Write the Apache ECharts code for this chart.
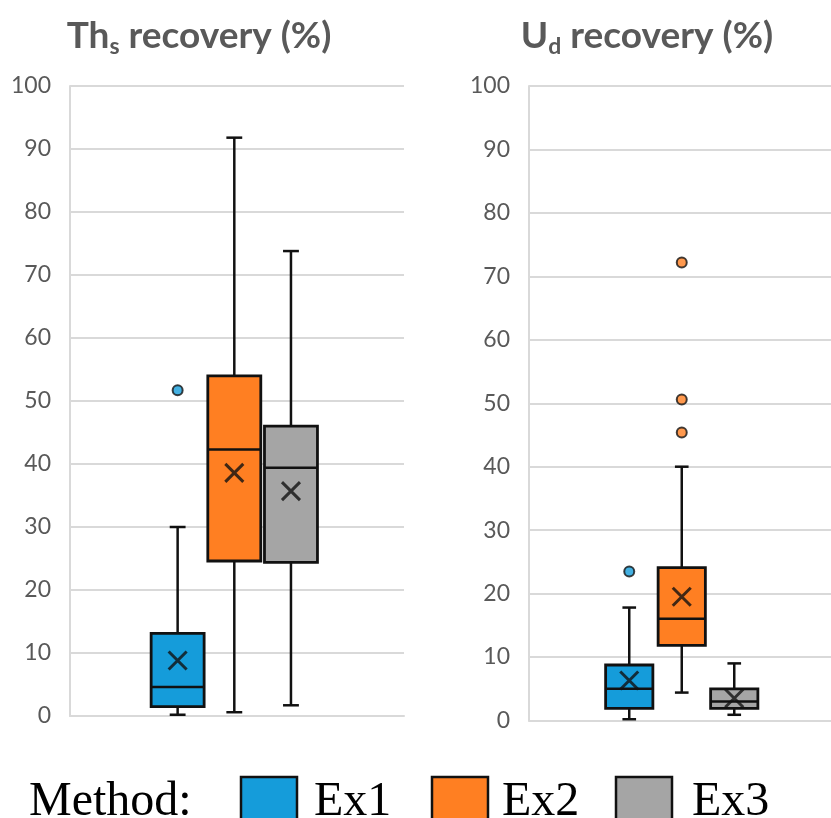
<!DOCTYPE html>
<html>
<head>
<meta charset="utf-8">
<script src="https://cdn.jsdelivr.net/npm/echarts@6/dist/echarts.min.js"></script>
<style>
html,body{margin:0;padding:0;background:#fff;}
#chart{width:831px;height:818px;}
</style>
</head>
<body>
<div id="chart"></div>
<script>
// ---- data ----
const methods = ['Ex1', 'Ex2', 'Ex3'];
const methodColors = ['#159CDA', '#FF7F22', '#A5A5A5'];
const yTicks = [0, 10, 20, 30, 40, 50, 60, 70, 80, 90, 100];
const titleLeft = ['Th', 's', ' recovery (%)'];
const titleRight = ['U', 'd', ' recovery (%)'];
// [min whisker, Q1, median, Q3, max whisker]
const thsBoxes = [
  [0.2, 1.5, 4.6, 13.1, 30.0],
  [0.6, 24.6, 42.3, 54.0, 91.8],
  [1.7, 24.4, 39.4, 46.0, 73.8]
];
const thsMeans = [8.8, 38.6, 35.7];
const thsOutliers = [[0, 51.7]];
const udBoxes = [
  [0.2, 1.9, 5.0, 8.75, 17.8],
  [4.4, 11.85, 16.05, 24.1, 40.0],
  [0.9, 1.9, 3.0, 5.0, 9.0]
];
const udMeans = [6.3, 19.5, 3.5];
const udOutliers = [[0, 23.5], [1, 72.2], [1, 50.6], [1, 45.4]];

// ---- chart ----
const chart = echarts.init(document.getElementById('chart'));
const yMin = yTicks[0], yMax = yTicks[yTicks.length - 1], yStep = yTicks[1] - yTicks[0];
const gridColor = '#D9D9D9';
const labelColor = '#595959';

function makeRender(boxRatio, capRatio) {
  return function (params, api) {
    const c = api.value(0);
    const lo = api.value(1), q1 = api.value(2), med = api.value(3), q3 = api.value(4), hi = api.value(5);
    const band = api.size([1, 0])[0];
    const bw = band * boxRatio, cw = band * capRatio;
    const pHi = api.coord([c, hi]), pQ3 = api.coord([c, q3]), pMed = api.coord([c, med]);
    const pQ1 = api.coord([c, q1]), pLo = api.coord([c, lo]);
    const x = pHi[0];
    const ls = { stroke: '#111', lineWidth: 2.5 };
    return {
      type: 'group',
      children: [
        { type: 'line', shape: { x1: x, y1: pHi[1], x2: x, y2: pQ3[1] }, style: ls },
        { type: 'line', shape: { x1: x, y1: pQ1[1], x2: x, y2: pLo[1] }, style: ls },
        { type: 'line', shape: { x1: x - cw / 2, y1: pHi[1], x2: x + cw / 2, y2: pHi[1] }, style: ls },
        { type: 'line', shape: { x1: x - cw / 2, y1: pLo[1], x2: x + cw / 2, y2: pLo[1] }, style: ls },
        { type: 'rect', shape: { x: x - bw / 2, y: pQ3[1], width: bw, height: pQ1[1] - pQ3[1] },
          style: { fill: methodColors[c], stroke: '#111', lineWidth: 2.8 } },
        { type: 'line', shape: { x1: x - bw / 2, y1: pMed[1], x2: x + bw / 2, y2: pMed[1] }, style: ls }
      ]
    };
  };
}

function mainY(gi) {
  return {
    gridIndex: gi, type: 'value', min: yMin, max: yMax, interval: yStep,
    axisLine: { show: true, lineStyle: { color: gridColor, width: 2 } },
    axisTick: { show: false },
    axisLabel: { color: labelColor, fontSize: 23, fontFamily: 'Lato', margin: 19 },
    splitLine: { lineStyle: { color: gridColor, width: 2 } }
  };
}
function hiddenY(gi) {
  return { gridIndex: gi, type: 'value', min: yMin, max: yMax, show: false, splitLine: { show: false } };
}
function mainX(gi) {
  return {
    gridIndex: gi, type: 'category', data: [''],
    axisLine: { show: true, lineStyle: { color: gridColor, width: 2 } },
    axisTick: { show: false }, axisLabel: { show: false }
  };
}
function boxX(gi) {
  return { gridIndex: gi, type: 'category', data: methods, show: false };
}

function boxSeries(ai, boxes, boxRatio, capRatio) {
  return {
    type: 'custom', xAxisIndex: ai, yAxisIndex: ai,
    renderItem: makeRender(boxRatio, capRatio),
    encode: { x: 0, y: [1, 2, 3, 4, 5] },
    data: boxes.map((b, i) => [i].concat(b)),
    z: 2
  };
}
function meanSeries(ai, means, size) {
  return {
    type: 'scatter', xAxisIndex: ai, yAxisIndex: ai,
    symbol: 'path://M0,0L10,10M10,0L0,10', symbolSize: size,
    itemStyle: { color: 'rgba(0,0,0,0)', borderColor: '#111', borderWidth: 3 },
    data: means.map((m, i) => [i, m]), z: 4, silent: true
  };
}
function outlierSeries(ai, pts) {
  return {
    type: 'scatter', xAxisIndex: ai, yAxisIndex: ai,
    symbol: 'circle', symbolSize: 10,
    data: pts.map(p => ({ value: p, itemStyle: { color: methodColors[p[0]] } })),
    itemStyle: { borderColor: '#111', borderWidth: 2 }, z: 4, silent: true
  };
}

const titleRich = {
  b: { fontSize: 37, fontWeight: 'bold', fontFamily: 'Lato', fill: labelColor, lineHeight: 44 },
  s: { fontSize: 23, fontWeight: 'bold', fontFamily: 'Lato', fill: labelColor, lineHeight: 6, verticalAlign: 'bottom' }
};
function titleText(parts) {
  return '{b|' + parts[0] + '}{s|' + parts[1] + '}{b|' + parts[2] + '}';
}

const legendGraphics = [
  { type: 'text', left: 29, top: 778, style: { text: 'Method:', fontFamily: 'Liberation Serif', fontSize: 48, fill: '#000' } }
];
const legendBoxX = [241, 432, 616];
const legendTextX = [314, 502, 692];
methods.forEach((m, i) => {
  legendGraphics.push({ type: 'rect', shape: { x: legendBoxX[i], y: 777, width: 56, height: 50 },
    style: { fill: methodColors[i], stroke: '#111', lineWidth: 2.5 } });
  legendGraphics.push({ type: 'text', x: legendTextX[i], y: 778,
    style: { text: m, fontFamily: 'Liberation Serif', fontSize: 48, fill: '#000' } });
});

chart.setOption({
  animation: false,
  backgroundColor: '#fff',
  grid: [
    { left: 70, top: 86, width: 334, height: 630 },
    { left: 149.3, top: 86, width: 170, height: 630 },
    { left: 529, top: 86, width: 302, height: 634.5 },
    { left: 603, top: 86, width: 157.5, height: 634.5 }
  ],
  xAxis: [mainX(0), boxX(1), mainX(2), boxX(3)],
  yAxis: [mainY(0), hiddenY(1), mainY(2), hiddenY(3)],
  graphic: [
    { type: 'text', x: 199, y: 14, style: { text: titleText(titleLeft), rich: titleRich, align: 'center' } },
    { type: 'text', x: 647, y: 14, style: { text: titleText(titleRight), rich: titleRich, align: 'center' } }
  ].concat(legendGraphics),
  series: [
    boxSeries(1, thsBoxes, 0.935, 0.28),
    meanSeries(1, thsMeans, 18),
    outlierSeries(1, thsOutliers),
    boxSeries(3, udBoxes, 0.9, 0.26),
    meanSeries(3, udMeans, 18),
    outlierSeries(3, udOutliers)
  ]
});
</script>
</body>
</html>
